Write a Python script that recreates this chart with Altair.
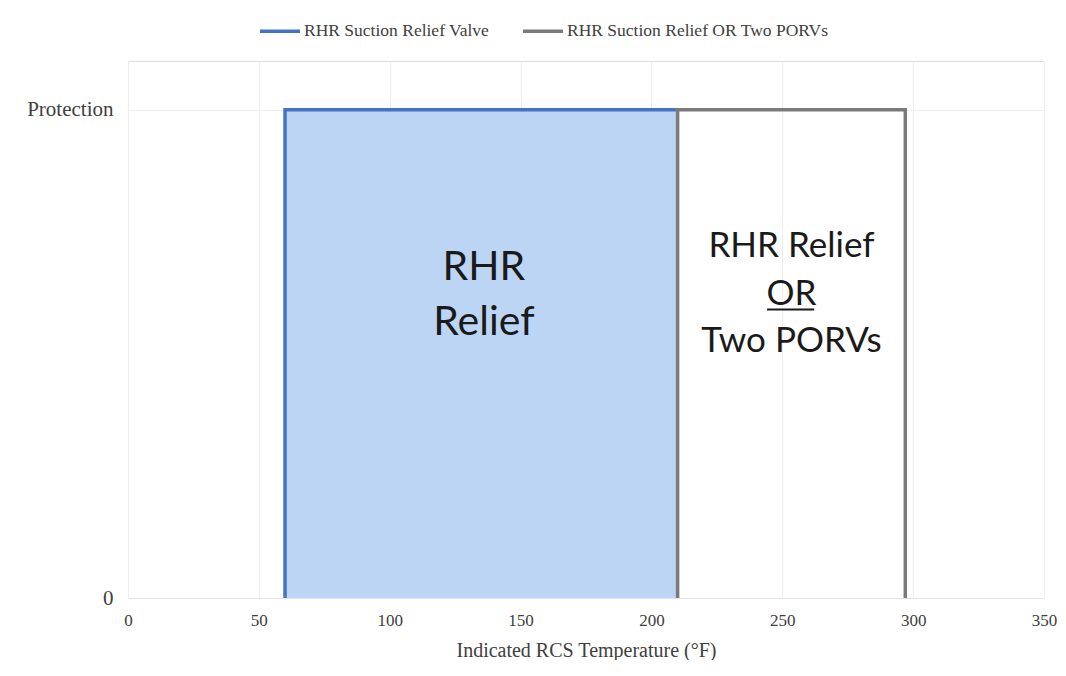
import altair as alt
import pandas as pd

# Series (temperature in °F, protection level 0/1)
series_names = ["RHR Suction Relief Valve", "RHR Suction Relief OR Two PORVs"]
blue_x = [60, 60, 210]
blue_y = [0, 1, 1]
gray_x = [210, 210, 297, 297]
gray_y = [0, 1, 1, 0]

# Shaded region
fill_x = [60]
fill_x2 = [210]
fill_y = [0]
fill_y2 = [1]

# Annotations
left_lines = ["RHR", "Relief"]
left_x = [136, 136]
left_y = [0.652, 0.539]
right_lines = ["RHR Relief", "OR", "Two PORVs"]
right_x = [253.5, 253.5, 253.5]
right_y = [0.699, 0.600, 0.504]
underline_x = [244.2]
underline_x2 = [262.2]
underline_y = [0.591]

x_ticks = [0, 50, 100, 150, 200, 250, 300, 350]
y_ticks = [0, 1]

rows = []
for i, (x, y) in enumerate(zip(blue_x, blue_y)):
    rows.append({"series": series_names[0], "x": x, "y": y, "order": i})
for i, (x, y) in enumerate(zip(gray_x, gray_y)):
    rows.append({"series": series_names[1], "x": x, "y": y, "order": i})
lines_df = pd.DataFrame(rows)

fill_df = pd.DataFrame({"x": fill_x, "x2": fill_x2, "y": fill_y, "y2": fill_y2})
left_df = pd.DataFrame({"t": left_lines, "x": left_x, "y": left_y})
right_df = pd.DataFrame({"t": right_lines, "x": right_x, "y": right_y})
ul_df = pd.DataFrame({"x": underline_x, "x2": underline_x2, "y": underline_y})

SERIF = "Liberation Serif"
SANS = "Lato"

xscale = alt.Scale(domain=[0, 350], nice=False, zero=False)
yscale = alt.Scale(domain=[0, 1.1], nice=False)

xaxis = alt.Axis(values=x_ticks, title="Indicated RCS Temperature (°F)", grid=True,
                 gridColor="#eeeeee", domainColor="#e4e4e4", ticks=False,
                 labelFont=SERIF, labelFontSize=17, labelColor="#404040",
                 labelPadding=14, titleFont=SERIF, titleFontSize=20,
                 titleFontWeight="normal", titleColor="#404040", titlePadding=12,
                 labelFlush=False)
yaxis = alt.Axis(values=y_ticks, title=None, grid=True, gridColor="#eeeeee",
                 domain=False, ticks=False, labelFont=SERIF, labelFontSize=21,
                 labelColor="#404040", labelPadding=15,
                 labelExpr="datum.value == 1 ? 'Protection' : '0'")

fill = alt.Chart(fill_df).mark_rect(color="#bcd5f5", opacity=1).encode(
    x=alt.X("x:Q", scale=xscale, axis=xaxis),
    x2="x2:Q",
    y=alt.Y("y:Q", scale=yscale, axis=yaxis),
    y2="y2:Q",
)

lines = alt.Chart(lines_df).mark_line(strokeWidth=3.5, strokeJoin="miter", strokeCap="butt").encode(
    x=alt.X("x:Q", scale=xscale),
    y=alt.Y("y:Q", scale=yscale),
    order="order:Q",
    color=alt.Color("series:N",
                    scale=alt.Scale(domain=series_names, range=["#4472c4", "#7a7a7a"]),
                    legend=alt.Legend(title=None, orient="none", direction="horizontal",
                                      legendX=130, legendY=-52,
                                      symbolType="stroke", symbolSize=1600,
                                      symbolStrokeWidth=3.5, labelFont=SERIF,
                                      labelFontSize=17.5, labelColor="#404040",
                                      labelLimit=0, labelOffset=2, columnPadding=26)),
)

left_text = alt.Chart(left_df).mark_text(font=SANS, fontSize=41, color="#1a1a1a",
                                          baseline="alphabetic", align="center").encode(
    x=alt.X("x:Q", scale=xscale), y=alt.Y("y:Q", scale=yscale), text="t:N")

right_text = alt.Chart(right_df).mark_text(font=SANS, fontSize=35, color="#1a1a1a",
                                            baseline="alphabetic", align="center").encode(
    x=alt.X("x:Q", scale=xscale), y=alt.Y("y:Q", scale=yscale), text="t:N")

underline = alt.Chart(ul_df).mark_rule(color="#1a1a1a", strokeWidth=2).encode(
    x=alt.X("x:Q", scale=xscale), x2="x2:Q", y=alt.Y("y:Q", scale=yscale))

chart = alt.layer(fill, lines, left_text, right_text, underline).properties(
    width=916, height=537,
    autosize=alt.AutoSizeParams(type="none"),
    padding={"left": 120, "top": 53, "right": 14, "bottom": 62},
).configure_view(stroke=None).configure(background="white")

chart.save("out.html", embed_options={"renderer": "svg", "actions": False})
